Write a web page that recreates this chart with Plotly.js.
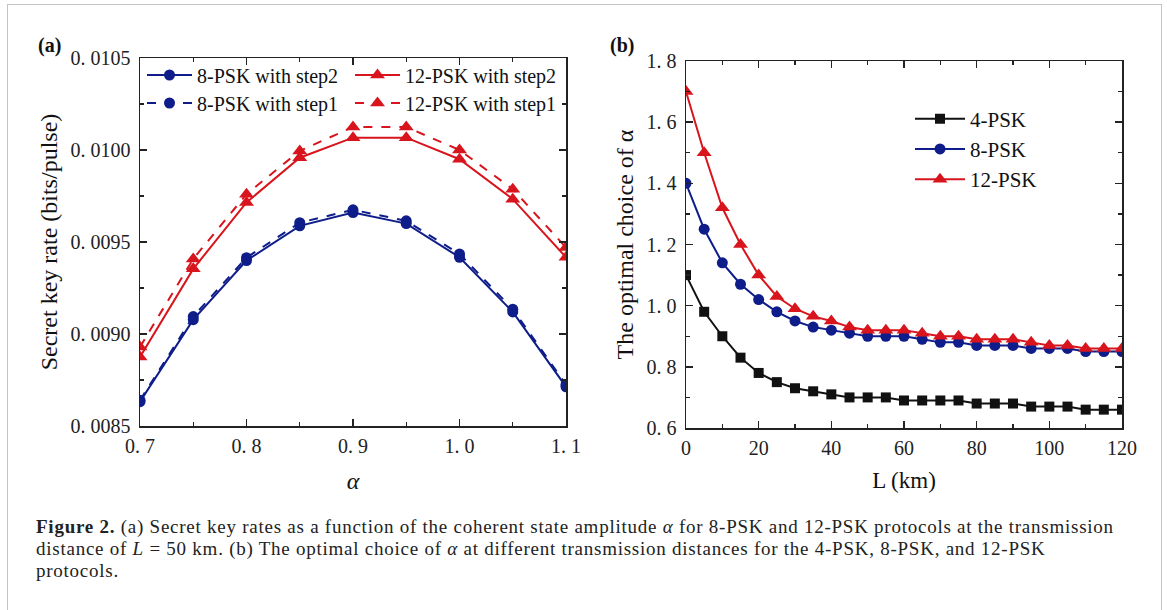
<!DOCTYPE html>
<html><head><meta charset="utf-8">
<script src="https://cdn.plot.ly/plotly-3.0.1.min.js"></script>
<style>
body{margin:0;background:#fff;}
#frame{position:absolute;left:7px;top:4px;width:1155px;height:640px;border:1.5px solid #c4c4c4;box-sizing:border-box;}
#chart{position:absolute;left:0;top:0;width:1167px;height:610px;}
#caption{position:absolute;left:36px;top:516px;font-family:"Liberation Serif","Times New Roman",serif;font-size:19px;line-height:22px;letter-spacing:0.75px;color:#222;white-space:nowrap;}
</style>
</head><body><div id="frame"></div><div id="chart"></div>
<div id="caption"><b>Figure 2.</b> (a) Secret key rates as a function of the coherent state amplitude <i>α</i> for 8-PSK and 12-PSK protocols at the transmission<br>distance of <i>L</i> = 50 km. (b) The optimal choice of <i>α</i> at different transmission distances for the 4-PSK, 8-PSK, and 12-PSK<br>protocols.</div>
<script>
// ---- data: panel (a) ----
const alphaVals = [0.70, 0.75, 0.80, 0.85, 0.90, 0.95, 1.00, 1.05, 1.10];
const psk8Step2 = [0.008632, 0.009078, 0.009399, 0.009588, 0.009660, 0.009600, 0.009417, 0.009120, 0.008713];
const psk8Step1 = [0.008640, 0.009095, 0.009415, 0.009605, 0.009675, 0.009615, 0.009435, 0.009135, 0.008725];
const psk12Step2 = [0.008875, 0.009354, 0.009715, 0.009958, 0.010067, 0.010067, 0.009950, 0.009733, 0.009417];
const psk12Step1 = [0.008930, 0.009408, 0.009760, 0.009995, 0.010125, 0.010125, 0.010000, 0.009787, 0.009470];
// ---- data: panel (b) ----
const distL = [0,5,10,15,20,25,30,35,40,45,50,55,60,65,70,75,80,85,90,95,100,105,110,115,120];
const opt4 = [1.10,0.98,0.90,0.83,0.78,0.75,0.73,0.72,0.71,0.70,0.70,0.70,0.69,0.69,0.69,0.69,0.68,0.68,0.68,0.67,0.67,0.67,0.66,0.66,0.66];
const opt8 = [1.40,1.25,1.14,1.07,1.02,0.98,0.95,0.93,0.92,0.91,0.90,0.90,0.90,0.89,0.88,0.88,0.87,0.87,0.87,0.86,0.86,0.86,0.85,0.85,0.85];
const opt12 = [1.70,1.50,1.32,1.20,1.10,1.03,0.99,0.965,0.95,0.93,0.92,0.92,0.92,0.91,0.90,0.90,0.89,0.89,0.89,0.88,0.87,0.87,0.86,0.86,0.86];
// ---- tick labels ----
const aXTicks = [0.7, 0.8, 0.9, 1.0, 1.1];
const aXTickText = ['0. 7', '0. 8', '0. 9', '1. 0', '1. 1'];
const aXMinor = [0.75, 0.85, 0.95, 1.05];
const aYTicks = [0.0085, 0.0090, 0.0095, 0.0100, 0.0105];
const aYTickText = ['0. 0085', '0. 0090', '0. 0095', '0. 0100', '0. 0105'];
const aYMinor = [0.00875, 0.00925, 0.00975, 0.01025];
const bYTicks = [0.6, 0.8, 1.0, 1.2, 1.4, 1.6, 1.8];
const bYTickText = ['0. 6', '0. 8', '1. 0', '1. 2', '1. 4', '1. 6', '1. 8'];
const bYMinor = [0.7, 0.9, 1.1, 1.3, 1.5, 1.7];

const BLUE = '#0f1d8a', RED = '#d8141c', BLACK = '#111';
const SERIF = '"Liberation Serif", "Times New Roman", serif';
const W = 1167, H = 610;
const px = v => v / W, py = v => 1 - v / H;

const traces = [
  {x: alphaVals, y: psk8Step2, name: '8-PSK with step2', xaxis: 'x', yaxis: 'y', legend: 'legend',
   mode: 'lines+markers', line: {color: BLUE, width: 2}, marker: {symbol: 'circle', size: 11, color: BLUE}},
  {x: alphaVals, y: psk12Step2, name: '12-PSK with step2', xaxis: 'x', yaxis: 'y', legend: 'legend',
   mode: 'lines+markers', line: {color: RED, width: 2}, marker: {symbol: 'triangle-up', size: 13, color: RED}},
  {x: alphaVals, y: psk8Step1, name: '8-PSK with step1', xaxis: 'x', yaxis: 'y', legend: 'legend2',
   mode: 'lines+markers', line: {color: BLUE, width: 2, dash: 'dash'}, marker: {symbol: 'circle', size: 11, color: BLUE}},
  {x: alphaVals, y: psk12Step1, name: '12-PSK with step1', xaxis: 'x', yaxis: 'y', legend: 'legend2',
   mode: 'lines+markers', line: {color: RED, width: 2, dash: 'dash'}, marker: {symbol: 'triangle-up', size: 13, color: RED}},
  {x: distL, y: opt4, name: '4-PSK', xaxis: 'x2', yaxis: 'y2', legend: 'legend3',
   mode: 'lines+markers', line: {color: BLACK, width: 2}, marker: {symbol: 'square', size: 10, color: BLACK}},
  {x: distL, y: opt8, name: '8-PSK', xaxis: 'x2', yaxis: 'y2', legend: 'legend3',
   mode: 'lines+markers', line: {color: BLUE, width: 2}, marker: {symbol: 'circle', size: 11, color: BLUE}},
  {x: distL, y: opt12, name: '12-PSK', xaxis: 'x2', yaxis: 'y2', legend: 'legend3',
   mode: 'lines+markers', line: {color: RED, width: 2}, marker: {symbol: 'triangle-up', size: 13, color: RED}}
];

const tickFont = {family: SERIF, size: 20, color: '#222'};
const axBase = {
  showline: true, linecolor: '#222', linewidth: 1.5, mirror: 'ticks',
  ticks: 'inside', ticklen: 7, tickwidth: 1.5, tickcolor: '#222',
  showgrid: false, zeroline: false, automargin: false, tickfont: tickFont
};
const minorBase = {ticks: 'inside', ticklen: 4, tickwidth: 1.2, tickcolor: '#222', showgrid: false};
const titleFont = {family: SERIF, size: 24, color: '#111'};

const legFont = {family: SERIF, size: 20, color: '#111'};
const layout = {
  width: W, height: H, autosize: false,
  margin: {l: 0, r: 0, t: 0, b: 0, pad: 0},
  paper_bgcolor: 'rgba(0,0,0,0)', plot_bgcolor: 'rgba(0,0,0,0)',
  showlegend: true,
  xaxis: Object.assign({}, axBase, {
    domain: [px(140), px(566)], anchor: 'y', range: [0.7, 1.1],
    tickmode: 'array', tickvals: aXTicks, ticktext: aXTickText, ticklabelstandoff: 1,
    minor: Object.assign({}, minorBase, {tickmode: 'array', tickvals: aXMinor}),
    title: {text: '<i>α</i>', font: {family: SERIF, size: 24, color: '#111'}, standoff: 16}
  }),
  yaxis: Object.assign({}, axBase, {
    domain: [py(426), py(58)], anchor: 'x', range: [0.0085, 0.0105],
    tickmode: 'array', tickvals: aYTicks, ticktext: aYTickText, ticklabelstandoff: 4,
    minor: Object.assign({}, minorBase, {tickmode: 'array', tickvals: aYMinor}),
    title: {text: 'Secret key rate (bits/pulse)', font: titleFont, standoff: 6}
  }),
  xaxis2: Object.assign({}, axBase, {
    domain: [px(686), px(1122)], anchor: 'y2', range: [0, 120],
    tickmode: 'linear', tick0: 0, dtick: 20, ticklabelstandoff: 1,
    minor: Object.assign({}, minorBase, {dtick: 10}),
    title: {text: 'L (km)', font: {family: SERIF, size: 23, color: '#111'}, standoff: 14}
  }),
  yaxis2: Object.assign({}, axBase, {
    domain: [py(428), py(61)], anchor: 'x2', range: [0.6, 1.8],
    tickmode: 'array', tickvals: bYTicks, ticktext: bYTickText, ticklabelstandoff: 4,
    minor: Object.assign({}, minorBase, {tickmode: 'array', tickvals: bYMinor}),
    title: {text: 'The optimal choice of α', font: titleFont, standoff: 6}
  }),
  legend: {orientation: 'h', x: px(142), y: py(75), xanchor: 'left', yanchor: 'middle',
    entrywidth: 148, entrywidthmode: 'pixels', itemwidth: 45, font: legFont, bgcolor: 'rgba(0,0,0,0)', traceorder: 'normal'},
  legend2: {orientation: 'h', x: px(142), y: py(103), xanchor: 'left', yanchor: 'middle',
    entrywidth: 148, entrywidthmode: 'pixels', itemwidth: 45, font: legFont, bgcolor: 'rgba(0,0,0,0)', traceorder: 'normal'},
  legend3: {orientation: 'v', x: px(910), y: py(149), xanchor: 'left', yanchor: 'middle',
    itemwidth: 50, font: {family: SERIF, size: 21, color: '#111'}, bgcolor: 'rgba(0,0,0,0)', tracegroupgap: 0},
  annotations: [
    {text: '<b>(a)</b>', xref: 'paper', yref: 'paper', x: px(49), y: py(46), xanchor: 'center', yanchor: 'middle', showarrow: false,
     font: {family: SERIF, size: 20, color: '#111'}},
    {text: '<b>(b)</b>', xref: 'paper', yref: 'paper', x: px(622), y: py(46), xanchor: 'center', yanchor: 'middle', showarrow: false,
     font: {family: SERIF, size: 20, color: '#111'}}
  ]
};

Plotly.newPlot('chart', traces, layout, {displayModeBar: false, staticPlot: true});
</script>
</body></html>
